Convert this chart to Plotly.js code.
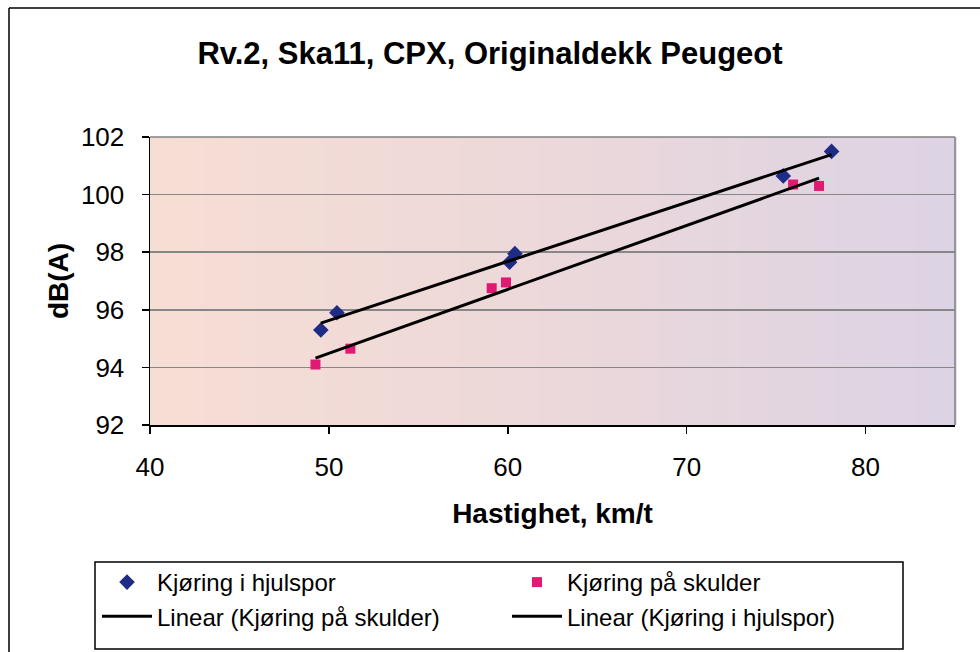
<!DOCTYPE html>
<html>
<head>
<meta charset="utf-8">
<script src="https://cdn.plot.ly/plotly-3.0.1.min.js"></script>
<style>
  html, body { margin: 0; padding: 0; background: #ffffff; }
  #chart { width: 980px; height: 652px; }
</style>
</head>
<body>
<div id="chart"></div>
<script>
// ---- data ----
const speedHjulspor = [49.55, 50.45, 60.1, 60.4, 75.4, 78.1];
const dbHjulspor    = [95.3, 95.9, 97.65, 97.95, 100.65, 101.5];
const speedSkulder  = [49.25, 51.2, 59.1, 59.9, 75.95, 77.4];
const dbSkulder     = [94.1, 94.65, 96.75, 96.95, 100.35, 100.3];

const seriesNames = ["Kjøring i hjulspor", "Kjøring på skulder"];
const trendNames  = ["Linear (Kjøring på skulder)", "Linear (Kjøring i hjulspor)"];
const yTicks = [92, 94, 96, 98, 100, 102];
const xTicks = [40, 50, 60, 70, 80];
const titleText = "Rv.2, Ska11, CPX, Originaldekk Peugeot";
const xTitle = "Hastighet, km/t";
const yTitle = "dB(A)";

// least-squares linear trendline over the data range (as Excel does)
function trend(xs, ys) {
  const n = xs.length;
  const mx = xs.reduce((a, b) => a + b, 0) / n;
  const my = ys.reduce((a, b) => a + b, 0) / n;
  let sxy = 0, sxx = 0;
  for (let i = 0; i < n; i++) { sxy += (xs[i] - mx) * (ys[i] - my); sxx += (xs[i] - mx) ** 2; }
  const b = sxy / sxx, a = my - b * mx;
  const x0 = Math.min(...xs), x1 = Math.max(...xs);
  return { x: [x0, x1], y: [a + b * x0, a + b * x1] };
}
const tH = trend(speedHjulspor, dbHjulspor);
const tS = trend(speedSkulder, dbSkulder);

const FONT = "Liberation Sans, Arial, Helvetica, sans-serif";

const traces = [
  { type: "scatter", mode: "markers", name: seriesNames[0], x: speedHjulspor, y: dbHjulspor,
    marker: { symbol: "diamond", size: 12, color: "#1f2c86", line: { width: 0 } } },
  { type: "scatter", mode: "markers", name: seriesNames[1], x: speedSkulder, y: dbSkulder,
    marker: { symbol: "square", size: 10, color: "#e01a72", line: { width: 0 } } },
  { type: "scatter", mode: "lines", name: trendNames[0], x: tS.x, y: tS.y,
    line: { color: "#000000", width: 3 } },
  { type: "scatter", mode: "lines", name: trendNames[1], x: tH.x, y: tH.y,
    line: { color: "#000000", width: 3 } }
];

// plot-area background gradient (peach on the left to lavender on the right)
const shapes = [];
const N = 60;
const cL = [247, 222, 212], cM = [236, 216, 218], cR = [220, 211, 228];
for (let i = 0; i < N; i++) {
  const t = (i + 0.5) / N;
  let c;
  if (t < 0.5) { const u = t / 0.5; c = cL.map((v, k) => Math.round(v + (cM[k] - v) * u)); }
  else { const u = (t - 0.5) / 0.5; c = cM.map((v, k) => Math.round(v + (cR[k] - v) * u)); }
  shapes.push({ type: "rect", xref: "paper", yref: "paper", x0: i / N, x1: (i + 1) / N + 0.002, y0: 0, y1: 1,
    fillcolor: `rgb(${c[0]},${c[1]},${c[2]})`, line: { width: 0 }, layer: "below" });
}
// gray plot frame top/right
shapes.push({ type: "line", xref: "paper", yref: "paper", x0: 0, x1: 1, y0: 1, y1: 1, line: { color: "#808080", width: 1.5 } });
shapes.push({ type: "line", xref: "paper", yref: "paper", x0: 1, x1: 1, y0: 0, y1: 1, line: { color: "#808080", width: 1.5 } });
// outer chart border (top and left visible)
const L = 150, W = 805, B = 425, H = 288;
const px = v => (v - L) / W, py = v => (B - v) / H;
shapes.push({ type: "line", xref: "paper", yref: "paper", x0: px(9), x1: px(985), y0: py(8), y1: py(8), line: { color: "#000", width: 1.5 } });
shapes.push({ type: "line", xref: "paper", yref: "paper", x0: px(9), x1: px(9), y0: py(8), y1: py(660), line: { color: "#000", width: 1.5 } });
// legend frame
shapes.push({ type: "rect", xref: "paper", yref: "paper", x0: px(95), x1: px(903), y0: py(562), y1: py(649), line: { color: "#000", width: 1.5 }, fillcolor: "rgba(0,0,0,0)" });

const layout = {
  width: 980, height: 652,
  margin: { l: 150, r: 25, t: 137, b: 227 },
  paper_bgcolor: "#ffffff",
  plot_bgcolor: "rgba(0,0,0,0)",
  font: { family: FONT, color: "#000", size: 24 },
  title: { text: titleText, font: { family: FONT, size: 31, weight: "bold", color: "#000" },
    x: 0.5, xref: "container", xanchor: "center", y: 1 - 53 / 652, yanchor: "middle" },
  xaxis: {
    range: [40, 85], tickvals: xTicks, ticktext: xTicks.map(String),
    showgrid: false, zeroline: false, showline: true, linecolor: "#000", linewidth: 1.5,
    ticks: "outside", ticklen: 7, tickwidth: 1.5, tickcolor: "#000",
    ticklabelstandoff: 11,
    tickfont: { family: FONT, size: 26, color: "#000" },
    title: { text: xTitle, font: { family: FONT, size: 28, weight: "bold", color: "#000" }, standoff: 22 }
  },
  yaxis: {
    range: [92, 102], tickvals: yTicks, ticktext: yTicks.map(String),
    showgrid: true, gridcolor: "#878787", gridwidth: 1.5,
    zeroline: false, showline: true, linecolor: "#000", linewidth: 1.5,
    ticks: "outside", ticklen: 7, tickwidth: 1.5, tickcolor: "#000",
    ticklabelstandoff: 12,
    tickfont: { family: FONT, size: 26, color: "#000" },
    title: { text: yTitle, font: { family: FONT, size: 28, weight: "bold", color: "#000" }, standoff: 4 }
  },
  showlegend: true,
  legend: {
    orientation: "h", x: px(97), y: py(560), xanchor: "left", yanchor: "top",
    bgcolor: "rgba(0,0,0,0)", borderwidth: 0,
    font: { family: FONT, size: 24, color: "#000" },
    traceorder: "normal", entrywidth: 345, entrywidthmode: "pixels", itemwidth: 50
  },
  shapes: shapes
};

Plotly.newPlot("chart", traces, layout, { staticPlot: true, displayModeBar: false });
</script>
</body>
</html>
